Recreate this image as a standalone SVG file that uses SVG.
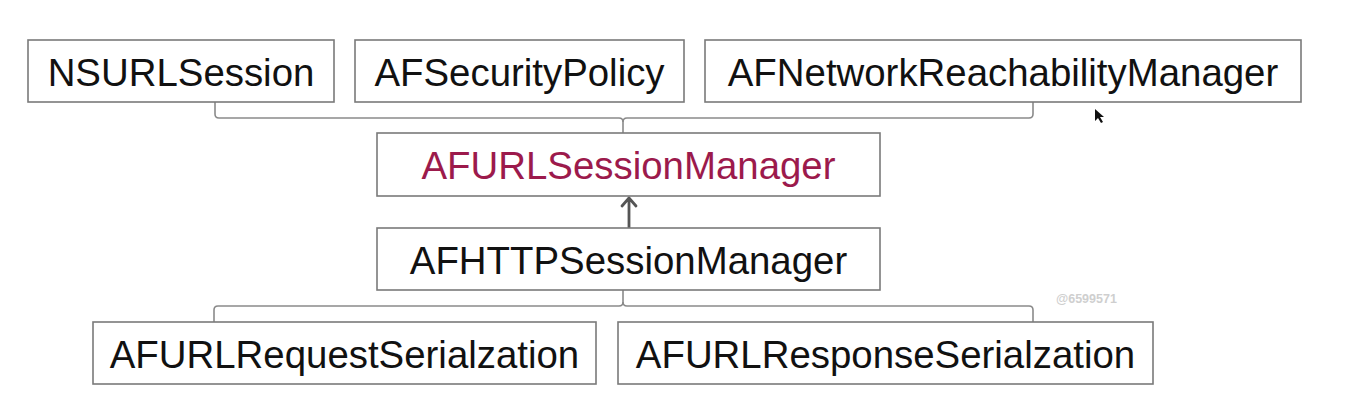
<svg xmlns="http://www.w3.org/2000/svg" width="1348" height="416" viewBox="0 0 1348 416">
<style>
.box{fill:#ffffff;stroke:#7a7a7a;stroke-width:1.6}
.lbl{font-family:"Liberation Sans",Arial,sans-serif;font-size:38.4px;fill:#111111;text-anchor:middle}
.hl{fill:#9c1a4c}
.con{fill:none;stroke:#8a8a8a;stroke-width:1.6}
.arr{fill:none;stroke:#555555;stroke-width:2.8;stroke-linecap:round;stroke-linejoin:round}
.wm{font-family:"Liberation Sans",Arial,sans-serif;font-size:12.5px;font-weight:bold;fill:#cfcfcf}
</style>
<rect width="1348" height="416" fill="#ffffff"/>
<g id="connectors">
<path class="con" d="M215,102 V114 Q215,118 219,118 H619 Q623,118 623,122 V133"/>
<path class="con" d="M1033,102 V114 Q1033,118 1029,118 H627 Q623,118 623,122"/>
<path class="con" d="M623,290 V302 Q623,306 619,306 H218 Q214,306 214,310 V322"/>
<path class="con" d="M623,302 Q623,306 627,306 H1029 Q1033,306 1033,310 V322"/>
<path class="arr" d="M629,228 V198 M622,206 L629,198 L636,206"/>
</g>
<g id="NSURLSession">
<rect class="box" x="28" y="40" width="306" height="62"/>
<text class="lbl" x="181" y="86">NSURLSession</text>
</g>
<g id="AFSecurityPolicy">
<rect class="box" x="355" y="40" width="329" height="62"/>
<text class="lbl" x="519.5" y="86">AFSecurityPolicy</text>
</g>
<g id="AFNetworkReachabilityManager">
<rect class="box" x="705" y="40" width="596" height="62"/>
<text class="lbl" x="1003" y="86">AFNetworkReachabilityManager</text>
</g>
<g id="AFURLSessionManager">
<rect class="box" x="377" y="133" width="503" height="63"/>
<text class="lbl hl" x="628.5" y="179">AFURLSessionManager</text>
</g>
<g id="AFHTTPSessionManager">
<rect class="box" x="377" y="228" width="503" height="62"/>
<text class="lbl" x="628.5" y="274">AFHTTPSessionManager</text>
</g>
<g id="AFURLRequestSerialzation">
<rect class="box" x="93" y="322" width="503" height="62"/>
<text class="lbl" x="344.5" y="368">AFURLRequestSerialzation</text>
</g>
<g id="AFURLResponseSerialzation">
<rect class="box" x="618" y="322" width="535" height="62"/>
<text class="lbl" x="885.5" y="368">AFURLResponseSerialzation</text>
</g>
<text class="wm" x="1056" y="303">@6599571</text>
<path d="M1095,109 L1095,121 L1098,118 L1101,123 L1103,122 L1100,117 L1104,117 Z" fill="#111111"/>
</svg>
